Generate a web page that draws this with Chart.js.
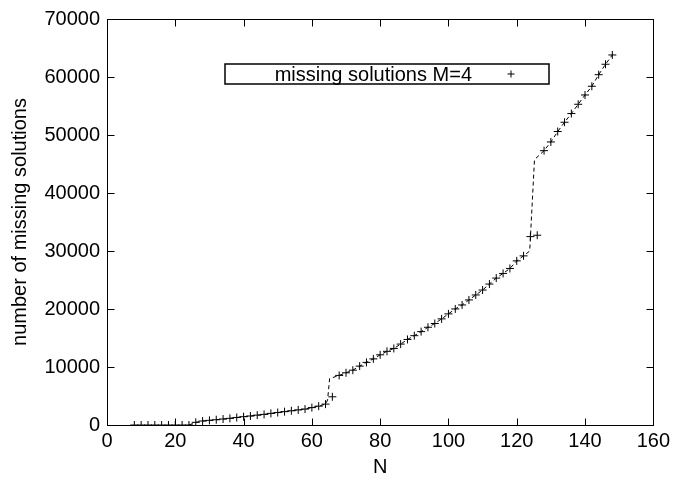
<!DOCTYPE html>
<html>
<head>
<meta charset="utf-8">
<script src="https://cdn.jsdelivr.net/npm/chart.js@4/dist/chart.umd.min.js"></script>
<style>
html,body{margin:0;padding:0;background:#fff;}
canvas{display:block;}
</style>
</head>
<body>
<canvas id="c" width="674" height="484"></canvas>
<script>
// Data points (N, number of missing solutions)
const pointN = [8,10,12,14,16,18,20,22,24,26,28,30,32,34,36,38,40,42,44,46,48,50,52,54,56,58,60,62,64,66,68,70,72,74,76,78,80,82,84,86,88,90,92,94,96,98,100,102,104,106,108,110,112,114,116,118,120,122,124,126,128,130,132,134,136,138,140,142,144,146,148];
const pointVals = [0,0,0,0,0,0,0,0,0,460,690,800,910,1030,1150,1300,1430,1550,1700,1830,2000,2150,2300,2450,2600,2750,3000,3250,3600,4860,8550,9000,9450,10150,10800,11400,12100,12700,13200,13950,14750,15400,16100,16850,17500,18300,19160,20010,20700,21560,22420,23270,24300,25330,26130,26990,28300,29160,32480,32720,47300,48800,50600,52200,53700,55300,56900,58400,60400,62200,63800];

// Dashed curve (unlabelled)
const lineN = [24,26,28,30,32,34,36,38,40,42,44,46,48,50,52,54,56,58,60,62,64,64.6,65.2,68,70,72,74,76,78,80,82,84,86,88,90,92,94,96,98,100,102,104,106,108,110,112,114,116,118,120,122,123.8,125.2,128,130,132,134,136,138,140,142,144,146,148];
const lineVals = [0,460,690,800,910,1030,1150,1300,1430,1550,1700,1830,2000,2150,2300,2450,2600,2750,3000,3250,3600,4300,8000,8550,9000,9450,10150,10800,11400,12100,12700,13200,13950,14750,15400,16100,16850,17500,18300,19160,20010,20700,21560,22420,23270,24300,25330,26130,26990,28300,29160,30000,45750,47300,48800,50600,52200,53700,55300,56900,58400,60400,62200,63800];

const seriesLabel = 'missing solutions M=4';
const xTitle = 'N';
const yTitle = 'number of missing solutions';

const FONT = '"Liberation Sans", Arial, Helvetica, sans-serif';
Chart.defaults.color = '#000';
Chart.defaults.font.family = FONT;
Chart.defaults.font.size = 20;

const frame = {
  id: 'frame',
  afterDatasetsDraw(chart) {
    const {ctx, chartArea: a, scales} = chart;
    ctx.save();
    ctx.strokeStyle = '#000';
    ctx.lineWidth = 1;
    const L = Math.round(a.left) + 0.5, R = Math.round(a.right) + 0.5;
    const T = Math.round(a.top) + 0.5, B = Math.round(a.bottom) + 0.5;
    ctx.strokeRect(L, T, R - L, B - T);
    const tl = 7;
    ctx.beginPath();
    scales.x.ticks.forEach(t => {
      const px = Math.round(scales.x.getPixelForValue(t.value)) + 0.5;
      ctx.moveTo(px, B); ctx.lineTo(px, B - tl);
      ctx.moveTo(px, T); ctx.lineTo(px, T + tl);
    });
    scales.y.ticks.forEach(t => {
      const py = Math.round(scales.y.getPixelForValue(t.value)) + 0.5;
      ctx.moveTo(L, py); ctx.lineTo(L + tl, py);
      ctx.moveTo(R, py); ctx.lineTo(R - tl, py);
    });
    ctx.stroke();

    // legend box
    const bx = a.left + 118, by = a.top + 45, bw = 324, bh = 20;
    ctx.lineWidth = 1.5;
    ctx.strokeRect(bx, by, bw, bh);
    ctx.font = '20px ' + FONT;
    ctx.fillStyle = '#000';
    ctx.textAlign = 'right';
    ctx.textBaseline = 'middle';
    ctx.fillText(chart.data.datasets[0].label, bx + 247, by + bh / 2 + 1);
    // sample marker
    ctx.lineWidth = 1;
    const sx = bx + 286, sy = by + bh / 2;
    ctx.beginPath();
    ctx.moveTo(sx - 3.5, sy); ctx.lineTo(sx + 3.5, sy);
    ctx.moveTo(sx, sy - 3.5); ctx.lineTo(sx, sy + 3.5);
    ctx.stroke();
    ctx.restore();
  }
};

new Chart(document.getElementById('c'), {
  type: 'scatter',
  data: {
    datasets: [
      {
        label: seriesLabel,
        data: pointN.map((n, i) => ({x: n, y: pointVals[i]})),
        showLine: false,
        pointStyle: 'cross',
        pointRadius: 4,
        pointBorderWidth: 1,
        borderColor: '#000',
        backgroundColor: '#000'
      },
      {
        label: '',
        data: lineN.map((n, i) => ({x: n, y: lineVals[i]})),
        showLine: true,
        borderColor: '#000',
        borderWidth: 1,
        borderDash: [4, 3],
        pointRadius: 0,
        tension: 0,
        fill: false
      }
    ]
  },
  options: {
    responsive: false,
    animation: false,
    events: [],
    layout: {padding: {left: 0, top: 17, right: 19, bottom: 0}},
    plugins: {legend: {display: false}, tooltip: {enabled: false}},
    scales: {
      x: {
        type: 'linear', min: 0, max: 160,
        ticks: {stepSize: 20, padding: 4, maxRotation: 0, callback: v => String(v)},
        grid: {display: false, drawTicks: false},
        border: {display: false},
        title: {display: true, text: xTitle, padding: {top: 0, bottom: 5}},
        afterFit(s) { s.height = 59; }
      },
      y: {
        type: 'linear', min: 0, max: 70000,
        ticks: {stepSize: 10000, padding: 7, callback: v => String(v)},
        grid: {display: false, drawTicks: false},
        border: {display: false},
        title: {display: true, text: yTitle, padding: {top: 8, bottom: 0}},
        afterFit(s) { s.width = 107; }
      }
    }
  },
  plugins: [frame]
});
</script>
</body>
</html>
